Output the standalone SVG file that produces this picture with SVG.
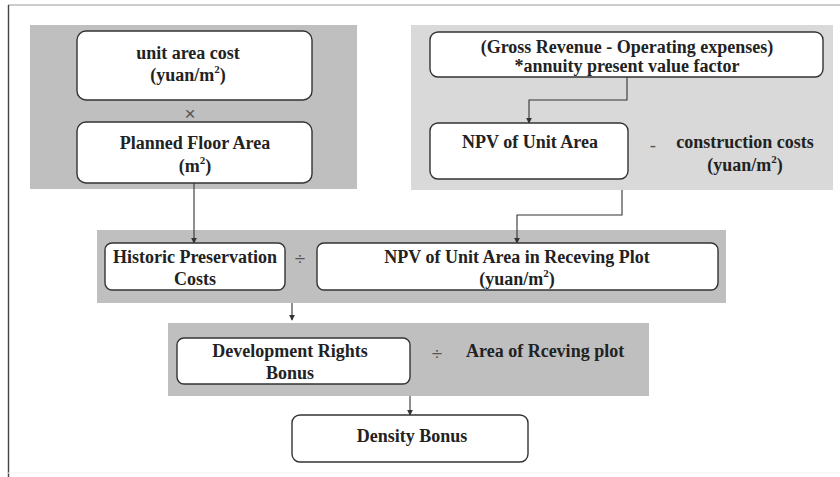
<svg xmlns="http://www.w3.org/2000/svg" width="840" height="477" viewBox="0 0 840 477">
  <style>
    .panel-dark { fill: #bfbfbf; }
    .panel-light { fill: #d9d9d9; }
    .box { fill: #ffffff; stroke: #333333; stroke-width: 1.4; }
    .t { font-family: "Liberation Serif", "Times New Roman", serif; font-weight: bold; font-size: 18px; fill: #222222; }
    .op { font-family: "Liberation Sans", Arial, sans-serif; font-size: 19px; fill: #555555; }
    .sup { font-size: 11px; }
    .conn { fill: none; stroke: #333333; stroke-width: 1.1; }
  </style>
  <defs>
    <marker id="arrow" viewBox="0 0 8 8" refX="7" refY="4" markerWidth="6" markerHeight="6" orient="auto" markerUnits="userSpaceOnUse">
      <path d="M0,0 L8,4 L0,8 z" fill="#333333"/>
    </marker>
  </defs>

  <rect width="840" height="477" fill="#ffffff"/>
  <!-- frame -->
  <line x1="8" y1="5" x2="840" y2="5" stroke="#9a9a9a" stroke-width="1.2"/>
  <line x1="8.5" y1="5" x2="8.5" y2="477" stroke="#444444" stroke-width="1.4"/>
  <line x1="8" y1="473" x2="840" y2="473" stroke="#f0f0f0" stroke-width="1"/>

  <!-- grouping panels -->
  <rect class="panel-dark" x="30" y="25" width="327" height="164"/>
  <rect class="panel-light" x="411" y="25" width="422" height="165"/>
  <rect class="panel-dark" x="97" y="230" width="629" height="73"/>
  <rect class="panel-dark" x="168" y="323" width="481" height="73"/>

  <!-- connectors -->
  <g id="connectors">
    <path class="conn" d="M194,183 V243" marker-end="url(#arrow)"/>
    <path class="conn" d="M627,77 V100 H529 V123" marker-end="url(#arrow)"/>
    <path class="conn" d="M622,190 V215 H517 V243" marker-end="url(#arrow)"/>
    <path class="conn" d="M292,303 V320" marker-end="url(#arrow)"/>
    <path class="conn" d="M410,396 V415" marker-end="url(#arrow)"/>
  </g>

  <g id="unit-area-cost">
    <rect class="box" x="77" y="31" width="235" height="69" rx="9"/>
    <text class="t" x="188" y="59" text-anchor="middle">unit area cost</text>
    <text class="t" x="188" y="81" text-anchor="middle">(yuan/m<tspan class="sup" dy="-8">2</tspan><tspan dy="8">)</tspan></text>
  </g>
  <text class="op" x="190" y="120" text-anchor="middle">×</text>

  <g id="planned-floor-area">
    <rect class="box" x="77" y="122" width="235" height="61" rx="9"/>
    <text class="t" x="195" y="149" text-anchor="middle">Planned Floor Area</text>
    <text class="t" x="195" y="172" text-anchor="middle">(m<tspan class="sup" dy="-8">2</tspan><tspan dy="8">)</tspan></text>
  </g>

  <g id="gross-revenue">
    <rect class="box" x="430" y="32" width="393" height="45" rx="8"/>
    <text class="t" x="627" y="53" text-anchor="middle">(Gross Revenue - Operating expenses)</text>
    <text class="t" x="627" y="72" text-anchor="middle">*annuity present value factor</text>
  </g>

  <g id="npv-unit-area">
    <rect class="box" x="430" y="123" width="198" height="56" rx="8"/>
    <text class="t" x="530" y="148" text-anchor="middle">NPV of Unit Area</text>
  </g>
  <text class="op" x="653" y="152" text-anchor="middle">-</text>

  <g id="construction-costs">
    <text class="t" x="745" y="148" text-anchor="middle">construction costs</text>
    <text class="t" x="745" y="171" text-anchor="middle">(yuan/m<tspan class="sup" dy="-8">2</tspan><tspan dy="8">)</tspan></text>
  </g>

  <g id="historic-preservation-costs">
    <rect class="box" x="105" y="243" width="180" height="47" rx="7"/>
    <text class="t" x="195" y="263" text-anchor="middle">Historic Preservation</text>
    <text class="t" x="195" y="285" text-anchor="middle">Costs</text>
  </g>
  <text class="op" x="300" y="265" text-anchor="middle">÷</text>

  <g id="npv-receiving-plot">
    <rect class="box" x="317" y="243" width="401" height="47" rx="7"/>
    <text class="t" x="517" y="263" text-anchor="middle">NPV of Unit Area in Receving Plot</text>
    <text class="t" x="517" y="285" text-anchor="middle">(yuan/m<tspan class="sup" dy="-8">2</tspan><tspan dy="8">)</tspan></text>
  </g>

  <g id="development-rights-bonus">
    <rect class="box" x="177" y="338" width="233" height="46" rx="7"/>
    <text class="t" x="290" y="357" text-anchor="middle">Development Rights</text>
    <text class="t" x="290" y="379" text-anchor="middle">Bonus</text>
  </g>
  <text class="op" x="437" y="360" text-anchor="middle">÷</text>

  <g id="area-of-receiving-plot">
    <text class="t" x="466" y="357">Area of Rceving plot</text>
  </g>

  <g id="density-bonus">
    <rect class="box" x="292" y="415" width="236" height="47" rx="8"/>
    <text class="t" x="412" y="442" text-anchor="middle">Density Bonus</text>
  </g>
</svg>
